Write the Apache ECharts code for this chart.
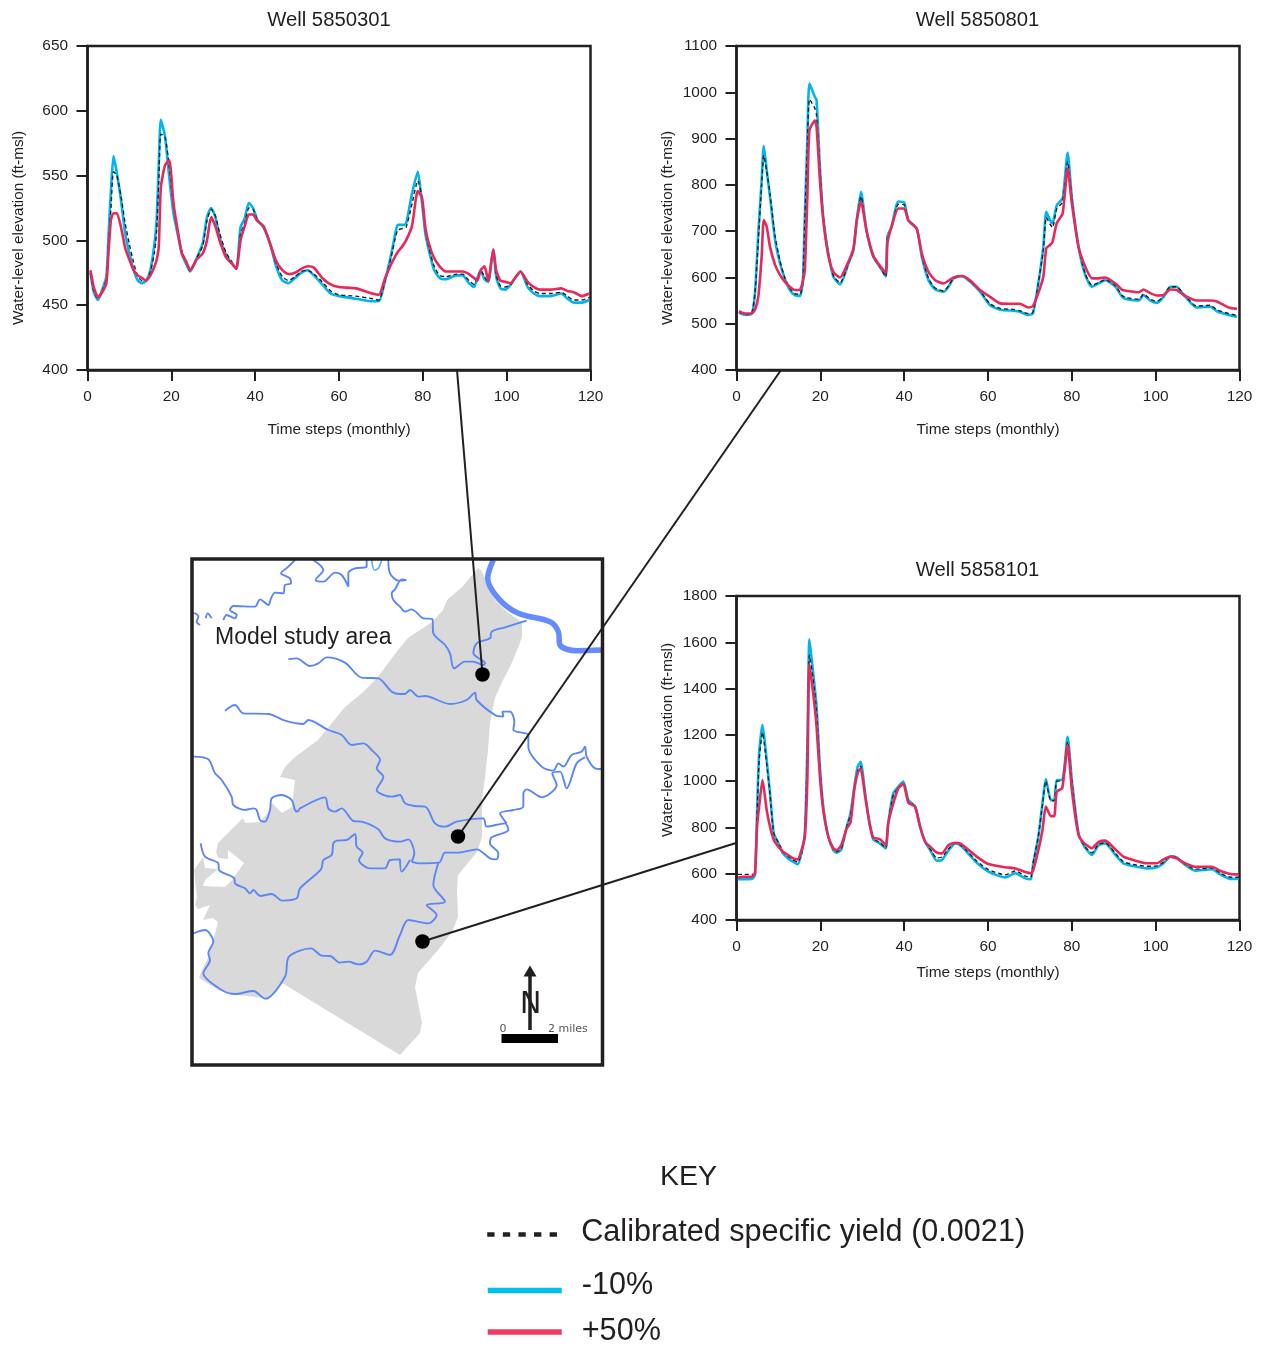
<!DOCTYPE html>
<html><head><meta charset="utf-8">
<style>html,body{margin:0;padding:0;background:#fff}#c{width:1264px;height:1346px}</style>
<script src="https://cdn.jsdelivr.net/npm/echarts@6/dist/echarts.min.js"></script>
</head><body><div id="c"></div>
<script>
const INK='#231f20', BLUE='#00b4ec', RED='#e9285a', RIVER='#5b86f8', FONT='"Liberation Sans"';
const nameBase='Calibrated specific yield (0.0021)', nameLow='-10%', nameHigh='+50%';

const xTicksMax=120;
const well1Title='Well 5850301', well2Title='Well 5850801', well3Title='Well 5858101';

const well1Steps=[0.7,1.5,2.5,3.5,4.5,5,5.6,6.2,7,8,
9,10,11,12,13,14,15,16,16.5,17,
17.5,18.5,19.5,20.5,21.5,22.5,23.5,24.5,26,27.5,
28.5,29.5,30.5,31.5,33,34.5,35.5,36.5,37.5,38.5,
39.5,40.5,42,43.5,45,46.5,48,49.5,51,52.5,
54,56,58,60,64,68,69.5,71,72.5,73.3,
74,75,76,77.4,78.8,79.8,80.6,81.4,82.6,84,
85.5,88,89.5,91,92.2,93,93.8,94.7,95.6,96.8,
97.5,98.5,99.7,101,102,103.3,105,106.5,108,110.5,
113,114.5,116,118,119.7];
const well1Low=[475,460,454,462,472,503,539,565,552,531,
505,490,477,469,467,469,477,498,516,559,
593,580,549,521,505,490,482,476,486,498,
518,525,518,503,489,482,478,510,517,529,
525,516,510,498,480,469,467,471,475,477,
473,466,459,457,455,453,453,469,490,503,
512,512,513,536,553,529,505,493,478,471,
470,473,473,467,464,471,477,470,468,493,
472,463,462,466,471,476,464,459,457,457,
459,455,452,452,454];
const well1Base=[474,461,455,461,470,497,525,553,550,534,
513,497,483,472,469,469,476,491,508,545,
582,580,557,526,508,492,484,476,486,496,
515,524,519,506,491,483,478,505,513,525,
524,516,510,498,482,472,469,472,476,477,
474,468,461,458,457,455,454,469,488,500,
508,509,510,528,546,533,508,495,481,473,
472,474,474,469,466,471,477,472,468,492,
473,465,464,466,471,476,466,461,459,459,
460,457,454,454,456];
const well1High=[477,464,456,460,467,490,516,521,521,510,
494,485,477,473,471,469,473,480,485,495,
541,558,562,529,508,490,484,477,485,490,
500,518,511,500,487,482,478,500,511,520,
520,515,511,498,484,477,474,475,478,480,
479,471,466,464,463,459,458,471,482,487,
491,495,500,511,538,533,510,498,487,480,
476,476,476,474,471,469,477,480,469,493,
477,469,468,467,471,476,468,464,462,462,
463,461,460,457,459];

const well2Steps=[0.6,2,3.6,4.4,5.2,6,6.5,7.2,8,9.2,
10.4,11.5,12.7,13.9,15.1,15.8,16.3,16.9,17.4,18.7,
19.1,19.9,20.7,21.9,23.1,24.7,26.7,27.9,28.7,29.7,
31,32.6,34.2,35.6,36,37,38.6,40,41,43,
44.2,45.8,47.4,49.4,50.6,51.8,53.7,55.7,58.1,60.5,
62.9,66,67.6,69.6,70.7,72,73.2,73.9,74.8,75.4,
76.4,77.8,79,80,81.6,83.2,84.8,86.4,88,90.4,
92,93.1,96,97.1,98.7,100.3,101.9,103.5,105,106.7,
109.8,113,114.6,117.4,119.4];
const well2Low=[524,519,521,566,695,810,884,832,774,681,
630,598,573,562,560,587,731,897,1019,990,
983,839,731,652,602,585,630,659,724,785,
702,645,623,602,688,710,764,762,724,706,
645,594,574,569,580,598,603,591,569,540,
530,528,526,519,522,587,666,742,724,717,
756,771,869,774,666,605,580,587,594,580,
558,553,550,562,550,545,558,580,580,562,
535,537,527,519,515];
const well2Base=[525,520,522,565,680,800,864,830,780,690,
635,600,577,565,563,587,720,880,985,965,
950,835,730,652,604,588,630,659,722,775,
702,645,623,602,685,708,758,757,724,706,
648,598,577,571,582,598,603,592,571,543,
533,531,528,522,524,587,660,730,715,708,
748,763,850,772,666,608,583,589,595,582,
561,556,553,564,553,548,560,580,580,564,
538,540,530,522,518];
const well2High=[527,522,522,530,558,645,724,710,666,627,
605,591,580,573,573,591,616,774,918,939,
926,810,724,648,612,600,634,663,724,764,
702,648,625,610,674,710,749,749,723,705,
652,612,594,587,593,600,603,594,573,558,
544,543,543,535,538,566,602,663,670,677,
717,738,836,760,666,623,598,598,600,587,
573,571,568,574,566,561,562,574,573,562,
550,550,548,535,532];

const well3Steps=[0.3,1.6,3.6,4.4,4.9,5.4,6.2,7.2,8,8.9,
10,11.1,12.3,13.5,14.6,15.5,16.3,16.9,17.4,18.3,
19.1,19.9,20.7,21.9,23.1,23.9,25,26.3,27.2,28.1,
28.9,29.6,30.7,31.6,32.6,34.2,35.6,36.2,37.4,38.6,
39.8,41,42.6,43.8,45,46.2,47.8,49,50.6,52.2,
53.3,54.9,57.3,60.1,64.1,66.5,68.9,70.2,70.8,72,
73,73.8,75,75.8,76.4,77.7,79,80,81.6,83,
84.8,86.4,88,90.4,92.3,94.7,97.9,100.3,101.9,103.5,
105,107,109.4,113.4,115.4,117.8,119.8];
const well3Low=[576,576,577,594,861,1120,1243,1091,947,774,
731,688,666,652,641,688,774,1149,1613,1466,
1322,1063,890,760,702,691,705,803,861,976,
1062,1084,947,832,749,731,710,818,947,976,
998,918,890,803,738,702,656,659,702,731,
724,695,648,609,584,602,580,576,645,760,
904,1009,918,918,1005,1005,1192,1005,774,717,
681,724,731,681,645,633,623,628,645,674,
671,638,613,619,597,577,577];
const well3Base=[597,597,597,600,850,1090,1210,1075,940,774,
735,695,675,660,650,688,770,1130,1545,1440,
1300,1050,885,760,705,695,708,803,855,965,
1045,1065,940,832,752,735,712,818,940,970,
992,915,890,803,738,707,668,672,708,733,
726,700,655,618,595,612,590,585,650,760,
900,1000,915,915,1000,1000,1170,1000,772,720,
690,728,733,688,652,640,632,634,650,676,
672,642,620,625,603,585,585];
const well3High=[584,587,587,602,803,890,1005,875,803,746,
717,695,681,666,662,702,760,1005,1506,1379,
1235,1019,875,760,710,702,724,796,821,962,
1034,1055,933,832,757,749,724,818,904,969,
988,907,890,803,738,717,691,688,724,734,
731,710,674,642,628,623,607,602,616,702,
789,890,849,849,955,969,1156,962,767,731,
710,738,743,705,674,659,645,645,662,674,
666,645,630,630,613,599,597];

/* map sketch: traced in map-sheet coordinates, grouped by sheet quadrant */
const sheet=(ox,oy)=>pts=>pts.map(p=>[ox+p[0]/3,oy+p[1]/3]);
const nw=sheet(185,550), ne=sheet(395,550), sw=sheet(185,810), se=sheet(395,810);

const studyArea=[[478,568],[481,570],[485,578],[495,600],[508,613],[522,622],[522,637],[518,648],[510,667],[502,682],[495,698],[490,723],[488,750],[485,777],[482,800],[482,810],[482,837],[477,852],[458,875],[457,890],[458,917],[452,932],[438,950],[418,973],[415,987],[422,1023],[420,1033],[400,1055],[282,983],[268,1000],[263,998],[238,995],[218,990],[199,978],[202,970],[208,958],[213,942],[218,922],[213,918],[203,920],[210,905],[198,909],[195,905],[197,897],[194,870],[203,857],[205,868],[218,869],[205,880],[203,886],[225,887],[232,880],[244,863],[228,850],[228,859],[218,858],[216,852],[218,843],[243,818],[245,823],[260,822],[268,813],[272,803],[282,813],[292,807],[295,780],[280,777],[285,767],[295,757],[318,740],[332,723],[345,707],[362,693],[377,678],[398,650],[408,638],[432,622],[443,610],[447,600],[462,587]];

const mainRiver=ne([[295,30],[278,85],[310,145],[370,190],[465,215],[490,245],[495,285],[545,302],[620,300]]);
const lightLoop=nw([[560,30],[568,60],[580,55],[590,30]]);
const riverA1=nw([[25,190],[30,190],[40,200],[35,215],[45,225]]);
const riverA2=nw([[62,205],[68,190],[80,205]]);
const riverA=nw([[115,210],[125,195],[150,205],[155,195],[135,180],[145,168],[210,170],[225,148],[250,165],[258,145],[270,128],[295,130],[300,105],[318,100],[315,85],[288,70],[310,50],[330,30]]);
const riverB=nw([[385,30],[415,60],[392,90],[415,95],[450,68],[470,75],[490,110],[490,70],[510,55],[545,50],[545,30]]);
const riverC=nw([[610,30],[615,70],[640,92]]).concat(ne([[33,90],[20,88],[0,118]]),nw([[620,130],[625,150],[645,170]]),ne([[30,185],[50,178],[85,205],[112,207],[115,250],[150,285],[165,310],[177,355],[210,335],[235,335],[265,345],[270,340],[235,310],[245,280],[285,265],[290,245],[330,232],[395,212]]));
const riverD=nw([[310,328],[335,325],[375,348],[400,340],[425,322],[480,338],[530,383],[580,385],[620,425],[645,432]]).concat(ne([[30,432],[45,420],[70,440],[90,438],[165,462],[215,450],[240,428],[245,450],[300,495],[325,500],[322,485],[345,485],[358,515],[355,540],[400,555],[400,590],[440,650],[475,662],[490,640],[505,650],[530,615],[560,605],[570,590],[575,620],[600,655],[618,657]]));
const riverDBranch=ne([[570,622],[545,640],[515,715],[495,665],[472,670],[485,705],[440,742],[395,718],[385,730],[385,770],[355,780]]).concat(se([[315,10],[335,40]]));
const riverE=nw([[120,482],[150,465],[175,490],[250,492],[300,512],[355,522],[370,510],[430,540],[470,555],[500,585],[535,580],[565,605],[585,630],[575,655],[595,680],[575,720],[620,740],[645,735]]).concat(ne([[30,760],[60,768],[90,770]]),se([[100,0],[120,40],[150,50],[185,35],[265,25],[275,50],[330,40],[340,60],[290,82],[285,100],[310,130],[305,148],[285,145],[245,118],[190,128],[150,128],[132,158],[70,160],[50,155]]));
const riverF=nw([[25,620],[70,628],[90,670],[110,690],[140,740],[145,765],[180,780],[205,775],[215,780],[225,810],[240,815],[255,780],[260,745],[290,735],[320,750],[330,780],[338,785],[345,775],[420,742],[430,775],[450,785],[470,775]]).concat(sw([[505,33],[530,35],[580,58],[600,85],[645,95]]),se([[40,88],[58,130],[50,155]]));
const riverG=sw([[47,100],[60,140],[100,160],[102,180],[148,205],[150,220],[180,235],[195,250],[205,240],[225,258],[260,252],[292,272],[335,265],[345,235],[408,178],[415,150],[440,135],[445,100],[455,92],[485,90],[510,72],[515,110],[533,128],[522,150],[555,175],[600,175],[615,150],[645,148]]).concat(se([[15,150],[20,185],[45,150]]));
const riverH=sw([[25,370],[60,360],[85,395],[70,430],[75,450],[55,490],[110,540],[150,552],[205,543],[240,566],[300,500],[312,440],[378,415],[410,437],[435,438],[465,458],[490,455],[520,463],[545,455],[570,422],[615,435],[645,375]]).concat(se([[40,330],[100,340],[125,315],[95,285],[150,275],[115,225],[130,158]]));
const rivers=[riverA1,riverA2,riverA,riverB,riverC,riverD,riverDBranch,riverE,riverF,riverG,riverH];

const mapFrame=[[192,559],[602.5,559],[602.5,1065],[192,1065]];
const wellSites=[[482.5,674.5],[458,836.5],[422.5,941.5]];
const callout1=[[457,370],[482.5,674.5]], callout2=[[781,370],[458,836.5]], callout3=[[736,843],[422.5,941.5]];
const northShaft=[[530,974],[530,1030]], northTip=[[530,971]], scaleBar=[[501.5,1038.5],[558,1038.5]];

[[well1Steps,well1Low,well1Base,well1High],[well2Steps,well2Low,well2Base,well2High],[well3Steps,well3Low,well3Base,well3High]].forEach(a=>{
  a.forEach(b=>{if(b.length!==a[0].length)throw new Error('length mismatch '+b.length+' vs '+a[0].length);});
});

const zip=(s,v)=>s.map((x,i)=>[x,v[i]]);
const lbl={color:INK,fontFamily:FONT,fontSize:15.4,formatter:v=>String(v)};
const axisLine={show:true,lineStyle:{color:INK,width:2.5}};
const tick={show:true,length:11,lineStyle:{color:INK,width:2}};

const grids=[
 {left:87.5,top:46,width:503,height:324,show:true,borderColor:INK,borderWidth:2.5,backgroundColor:'transparent'},
 {left:736.5,top:46,width:503,height:324,show:true,borderColor:INK,borderWidth:2.5,backgroundColor:'transparent'},
 {left:736.5,top:596,width:503,height:324,show:true,borderColor:INK,borderWidth:2.5,backgroundColor:'transparent'},
 {left:0,top:0,width:1264,height:1346,show:false}
];
const xA=(i,gap)=>({type:'value',gridIndex:i,min:0,max:xTicksMax,interval:20,name:'Time steps (monthly)',nameLocation:'middle',nameGap:gap,
  nameTextStyle:{color:INK,fontFamily:FONT,fontSize:15.4},axisLine,axisTick:tick,axisLabel:{...lbl,margin:19},splitLine:{show:false}});
const yA=(i,min,max,iv,pad)=>({type:'value',gridIndex:i,min,max,interval:iv,name:'Water-level elevation (ft-msl)',nameLocation:'middle',nameGap:61,
  nameTextStyle:{color:INK,fontFamily:FONT,fontSize:15.3,padding:pad},axisLine,axisTick:tick,axisLabel:{...lbl,margin:19.5,padding:[2,0,0,0]},splitLine:{show:false}});

const wellSeries=(i,steps,low,base,high)=>[
 {name:nameLow,type:'line',xAxisIndex:i,yAxisIndex:i,data:zip(steps,low),symbol:'none',smooth:0.2,z:3,lineStyle:{color:BLUE,width:2.6},itemStyle:{color:BLUE}},
 {name:nameBase,type:'line',xAxisIndex:i,yAxisIndex:i,data:zip(steps,base),symbol:'none',smooth:0.2,z:4,lineStyle:{color:INK,width:1.4,type:[4,3]},itemStyle:{color:INK}},
 {name:nameHigh,type:'line',xAxisIndex:i,yAxisIndex:i,data:zip(steps,high),symbol:'none',smooth:0.2,z:5,lineStyle:{color:RED,width:2.6},itemStyle:{color:RED}}
];
const overlayLine=(data,color,width,extra)=>Object.assign({type:'line',xAxisIndex:3,yAxisIndex:3,data,symbol:'none',silent:true,z:6,clip:false,lineStyle:{color,width,cap:'butt'}},extra||{});
const polyItem=(pts,style,z)=>({type:'custom',xAxisIndex:3,yAxisIndex:3,data:[pts[0]],encode:{x:0,y:1},silent:true,clip:false,z,
  renderItem:(p,api)=>({type:'polygon',shape:{points:pts.map(q=>api.coord(q))},style})});

const legendText=(pb)=>({rich:{t:{color:INK,fontFamily:FONT,fontSize:30.6,padding:[0,0,pb,15]}}});
const legendCommon={left:480,itemWidth:74,itemHeight:14,itemGap:0,padding:5,selectedMode:false,formatter:'{t|{name}}',itemStyle:{opacity:0}};
const titleStyle=size=>({color:INK,fontFamily:FONT,fontSize:size,fontWeight:'normal'});
const option={
 animation:false,backgroundColor:'#fff',
 title:[
  {text:well1Title,left:324,top:5,textAlign:'center',textStyle:titleStyle(20.3)},
  {text:well2Title,left:972.5,top:5,textAlign:'center',textStyle:titleStyle(20.3)},
  {text:well3Title,left:972.5,top:555,textAlign:'center',textStyle:titleStyle(20.3)},
  {text:'KEY',left:683.5,top:1158,textAlign:'center',textStyle:titleStyle(28.5)}
 ],
 legend:[
  {...legendCommon,data:[nameBase],top:1212,textStyle:legendText(4),lineStyle:{width:4.5,type:[7.3,8.3],color:INK}},
  {...legendCommon,data:[nameLow],top:1265,textStyle:legendText(10),lineStyle:{width:5.5,color:'#00bef2'}},
  {...legendCommon,data:[nameHigh],top:1311.5,textStyle:legendText(0),lineStyle:{width:5.5,color:'#ef3b63'}}
 ],
 grid:grids,
 xAxis:[xA(0,52),xA(1,52),xA(2,45),{type:'value',gridIndex:3,min:0,max:1264,show:false}],
 yAxis:[yA(0,400,650,50,[0,40,0,0]),yA(1,400,1100,100,[0,40,0,0]),yA(2,400,1800,200,[0,0,0,36]),{type:'value',gridIndex:3,min:0,max:1346,inverse:true,show:false}],
 series:[
  polyItem(studyArea,{fill:'#d9d9d9'},1),
  ...wellSeries(0,well1Steps,well1Low,well1Base,well1High),
  ...wellSeries(1,well2Steps,well2Low,well2Base,well2High),
  ...wellSeries(2,well3Steps,well3Low,well3Base,well3High),
  ...rivers.map(r=>overlayLine(r,RIVER,1.9,{smooth:0.3,z:2})),
  overlayLine(lightLoop,'#58aef2',1.6,{smooth:0.3,z:2}),
  overlayLine(mainRiver,'#648cff',5.5,{smooth:0.35,z:2}),
  polyItem(mapFrame,{fill:'none',stroke:INK,lineWidth:3.5,lineJoin:'miter'},6),
  overlayLine(callout1,INK,2),overlayLine(callout2,INK,2),overlayLine(callout3,INK,2),
  overlayLine(northShaft,INK,3.5),overlayLine(scaleBar,'#000',9),
  {type:'scatter',xAxisIndex:3,yAxisIndex:3,data:wellSites,symbol:'circle',symbolSize:14.5,silent:true,z:7,itemStyle:{color:'#000',opacity:1}},
  {type:'scatter',xAxisIndex:3,yAxisIndex:3,data:northTip,symbol:'triangle',symbolSize:[13,11],silent:true,z:7,itemStyle:{color:INK,opacity:1}}
 ],
 graphic:[
  {type:'text',x:215,y:626,z:10,style:{text:'Model study area',fill:INK,font:'23px "Liberation Sans"'}},
  {type:'text',x:520,y:990,z:10,scaleX:0.95,style:{text:'N',fill:INK,font:'30px "DejaVu Sans"'}},
  {type:'text',x:499.5,y:1024,z:10,style:{text:'0',fill:'#555',font:'11px "DejaVu Sans"'}},
  {type:'text',x:548,y:1024,z:10,style:{text:'2 miles',fill:'#555',font:'11px "DejaVu Sans"'}}
 ]
};
echarts.init(document.getElementById('c'),null,{renderer:'canvas'}).setOption(option);
</script></body></html>
